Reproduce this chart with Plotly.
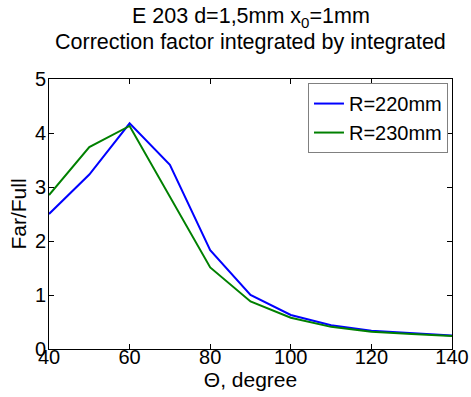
import plotly.graph_objects as go

theta = [40, 50, 60, 70, 80, 90, 100, 110, 120, 130, 140]
r220 = [2.50, 3.23, 4.18, 3.41, 1.83, 1.00, 0.63, 0.44, 0.34, 0.29, 0.25]
r230 = [2.85, 3.74, 4.13, 2.82, 1.51, 0.88, 0.58, 0.41, 0.32, 0.28, 0.24]
series_names = ["R=220mm", "R=230mm"]
x_ticks = [40, 60, 80, 100, 120, 140]
y_ticks = [0, 1, 2, 3, 4, 5]
title_lines = ["E 203 d=1,5mm x<sub>0</sub>=1mm", "Correction factor integrated by integrated"]

FONT = "Liberation Sans, Arial, sans-serif"
TICK_FS = 20
LAB_FS = 21
TITLE_FS = 21.5

W, H = 471, 397
plot_top, plot_bot = 79, 349

fig = go.Figure()
fig.add_trace(go.Scatter(x=theta, y=r220, mode="lines", name=series_names[0],
                         line=dict(color="#0000ff", width=2)))
fig.add_trace(go.Scatter(x=theta, y=r230, mode="lines", name=series_names[1],
                         line=dict(color="#008000", width=2)))

axis_common = dict(showline=True, linecolor="black", linewidth=1, mirror="ticks",
                   ticks="inside", ticklen=5, tickcolor="black", showgrid=False,
                   zeroline=False, automargin=False,
                   tickfont=dict(family=FONT, size=TICK_FS, color="black"))

def py(pix):
    return 1 + (plot_top - pix) / (plot_bot - plot_top)

annotations = [
    dict(text=title_lines[0], x=0.5, xref="paper", y=py(17), yref="paper",
         xanchor="center", yanchor="middle", showarrow=False,
         font=dict(family=FONT, size=TITLE_FS, color="black")),
    dict(text=title_lines[1], x=0.5, xref="paper", y=py(42), yref="paper",
         xanchor="center", yanchor="middle", showarrow=False,
         font=dict(family=FONT, size=TITLE_FS, color="black")),
]

fig.update_layout(
    width=W, height=H,
    margin=dict(l=49, r=W - 452, t=plot_top, b=H - plot_bot),
    paper_bgcolor="white", plot_bgcolor="white",
    font=dict(family=FONT, size=LAB_FS, color="black"),
    annotations=annotations,
    xaxis=dict(range=[40, 140], tickvals=x_ticks,
               title=dict(text="Θ, degree", standoff=0, font=dict(family=FONT, size=LAB_FS)),
               ticklabelstandoff=-10,
               **axis_common),
    yaxis=dict(range=[0, 5], tickvals=y_ticks,
               title=dict(text="Far/Full", standoff=2, font=dict(family=FONT, size=LAB_FS)),
               ticklabelstandoff=-2,
               **axis_common),
    legend=dict(x=0.99, y=0.985, xanchor="right", yanchor="top",
                bgcolor="white", bordercolor="#808080", borderwidth=1,
                font=dict(family=FONT, size=20), tracegroupgap=0,
                itemwidth=30),
    showlegend=True,
)

fig.write_html(
    "out.html",
    config={"displayModeBar": False},
    post_script="document.body.style.margin='0';document.body.style.overflow='hidden';",
)
